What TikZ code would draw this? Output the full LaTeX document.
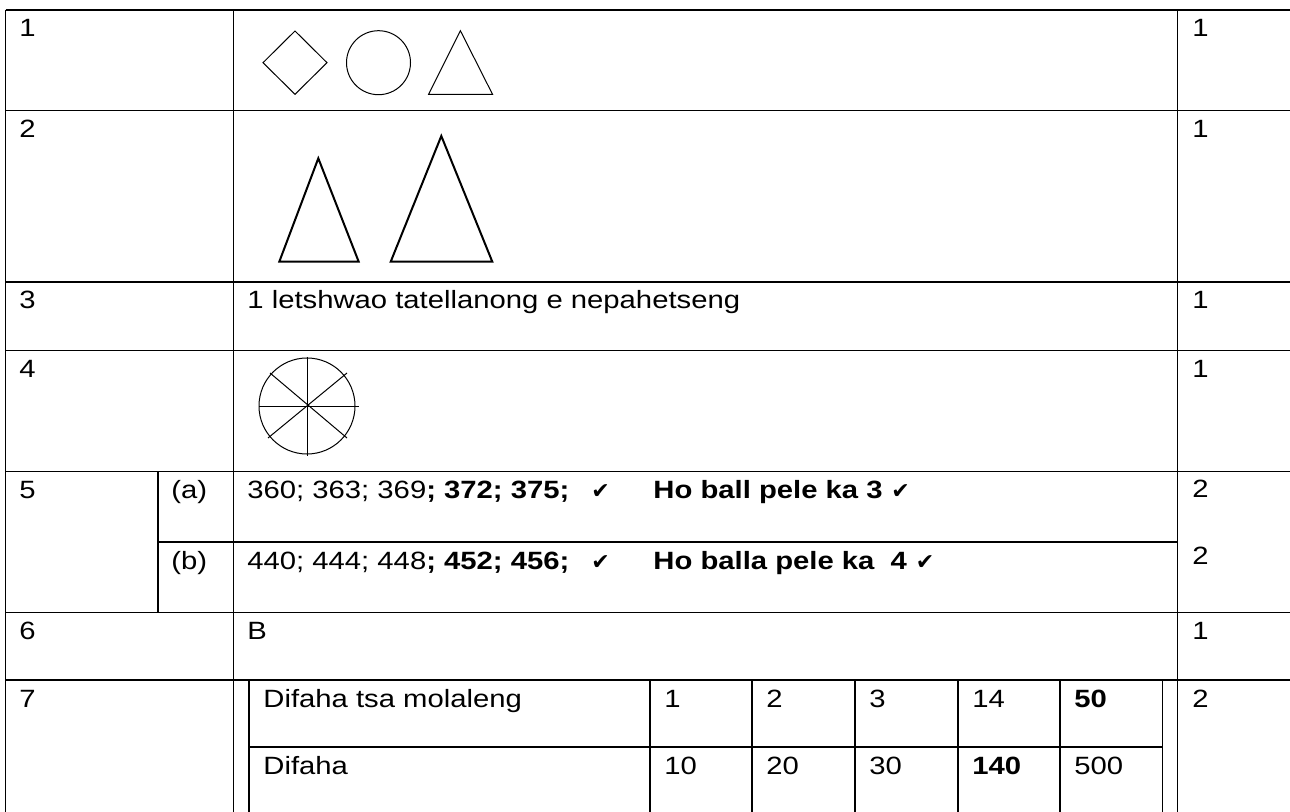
\documentclass[tikz,border=0pt]{standalone}
\usepackage{fontspec}
\setmainfont{Liberation Sans}[FakeStretch=1.17]
\newfontfamily\tickfont{DejaVu Sans}
\usetikzlibrary{calc,positioning}
\newcommand{\cellfont}{\fontsize{12.5}{15}\selectfont}
\tikzset{
  grid-line/.style={line width=0.75pt},
  cell/.style={anchor=base west, inner sep=0pt, font=\cellfont},
  cell-bold/.style={cell, font=\cellfont\bfseries},
  tick-mark/.style={anchor=base west, inner sep=0pt, font=\tickfont\fontsize{11}{13}\selectfont},
  shape-thin/.style={line width=0.5pt},
  shape-thick/.style={line width=1pt, line join=miter}
}

\begin{document}
\begin{tikzpicture}[x=0.5pt, y=-0.5pt]
  \useasboundingbox (0,0) rectangle (1290,812);
  \clip (0,0) rectangle (1290,812);
  % outer grid
  \foreach \y in {10,110.5,282,350.5,471.5,612.7,680}
    \draw[grid-line] (5.5,\y) -- (1300,\y);
  \foreach \x in {5.5,233.3,1177.5}
    \draw[grid-line] (\x,10) -- (\x,820);
  \draw[grid-line] (158,471.5) -- (158,612.7);
  \draw[grid-line] (158,542) -- (1177.5,542);
  % row numbers and marks
  \foreach \n/\y in {1/37,2/137.5,3/309,4/377.5,5/498.5,6/639.7,7/707}
    \node[cell] (num\n) at (19,\y) {\n};
  \foreach \n/\m/\y in {1/1/37,2/1/137.5,3/1/309,4/1/377.5,5a/2/497.5,5b/2/564,6/1/639.7,7/2/707}
    \node[cell] (mark\n) at (1192,\y) {\m};
  % 1: shapes
  \draw[shape-thin] (295,31) -- (327,62.7) -- (295,94.3) -- (263,62.7) -- cycle;
  \draw[shape-thin] (378.5,62.7) circle[radius=32];
  \draw[shape-thin] (460.4,30.7) -- (492.5,94.3) -- (428.6,94.3) -- cycle;
  % 2: two triangles
  \draw[shape-thick] (318.3,158.3) -- (358.7,261.7) -- (279.3,261.7) -- cycle;
  \draw[shape-thick] (441.3,136) -- (492.3,261.7) -- (390.7,261.7) -- cycle;
  % 3
  \node[cell] (ans3) at (247,309) {1 letshwao tatellanong e nepahetseng};
  % 4: circle in eighths
  \draw[shape-thin] (307,406) circle[radius=48];
  \draw[shape-thin] (307,357) -- (307,456);
  \draw[shape-thin] (259,406.5) -- (359,406.5);
  \draw[shape-thin] (270,373) -- (347,438);
  \draw[shape-thin] (347,373) -- (268,438);
  % 5
  \node[cell] (parta) at (171,498.5) {(a)};
  \node[cell] (partb) at (171,569) {(b)};
  \node[cell] (seq5a) at (247,498.5) {360; 363; 369\textbf{; 372; 375;}};
  \node[tick-mark] (tick5a) at (591,498.5) {✔};
  \node[cell-bold] (rule5a) at (653,498.5) {Ho ball pele ka 3};
  \node[tick-mark, right=4pt of rule5a.base east, anchor=base west] (tick5a-end) {✔};
  \node[cell] (seq5b) at (247,569) {440; 444; 448\textbf{; 452; 456;}};
  \node[tick-mark] (tick5b) at (591,569) {✔};
  \node[cell-bold] (rule5b) at (653,569) {Ho balla pele ka \ 4};
  \node[tick-mark, right=4pt of rule5b.base east, anchor=base west] (tick5b-end) {✔};
  % 6
  \node[cell] (ans6) at (247,639.7) {B};
  % 7: inner table
  \foreach \x in {249,650,752,855,958,1060,1162.7}
    \draw[grid-line] (\x,680) -- (\x,820);
  \draw[grid-line] (249,747) -- (1162.7,747);
  \node[cell] (head-top) at (263,707) {Difaha tsa molaleng};
  \node[cell] (head-bottom) at (263,774) {Difaha};
  \foreach \x/\a/\b [count=\i] in {664/1/10,766/2/20,869/3/30,972/14/\textbf{140},1074/\textbf{50}/500} {
    \node[cell] (top\i) at (\x,707) {\a};
    \node[cell] (bottom\i) at (\x,774) {\b};
  }
\end{tikzpicture}
\end{document}
